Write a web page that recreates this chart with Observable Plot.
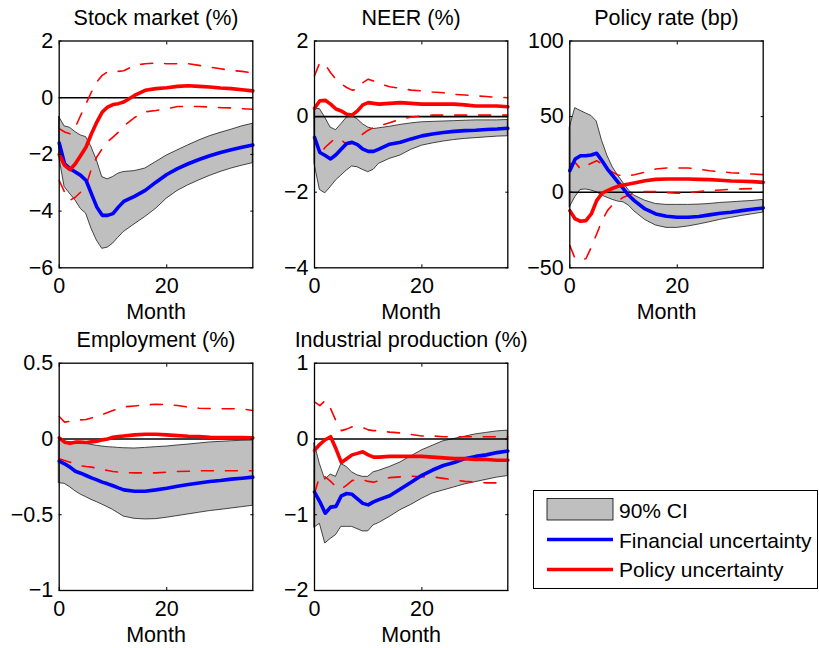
<!DOCTYPE html>
<html><head><meta charset="utf-8">
<script src="https://cdn.jsdelivr.net/npm/d3@7"></script>
<script src="https://cdn.jsdelivr.net/npm/@observablehq/plot@0.6"></script>
<style>
body{margin:0;background:#fff;}
#chart{position:relative;width:819px;height:648px;font-family:"Liberation Sans",Arial,sans-serif;overflow:hidden;}
#chart svg{position:absolute;left:0;top:0;}
</style></head><body><div id="chart"></div>
<script>
// Months (horizon)
const months = [0,1,2,3,4,5,6,7,8,9,10,11,12,14,16,18,20,22,24,26,28,30,32,34,36];
const xTicks = [0, 20];

// Stock market (%)
const stockFin   = [-1.6,-2.33,-2.5,-2.62,-2.74,-2.92,-3.39,-3.86,-4.15,-4.15,-4.09,-3.86,-3.66,-3.48,-3.27,-2.98,-2.71,-2.5,-2.33,-2.18,-2.05,-1.93,-1.84,-1.75,-1.67];
const stockFinHi = [-0.68,-1.01,-1.06,-1.21,-1.33,-1.39,-1.74,-2.21,-2.8,-2.88,-2.8,-2.68,-2.62,-2.59,-2.5,-2.27,-2.04,-1.86,-1.68,-1.51,-1.36,-1.24,-1.13,-1.01,-0.92];
const stockFinLo = [-2.09,-3.15,-3.39,-3.62,-3.92,-4.09,-4.62,-5.04,-5.33,-5.29,-5.15,-4.94,-4.74,-4.47,-4.21,-3.92,-3.56,-3.29,-3.09,-2.92,-2.76,-2.62,-2.5,-2.4,-2.31];
const stockPol   = [-2.0,-2.39,-2.54,-2.33,-2.04,-1.74,-1.27,-0.86,-0.51,-0.33,-0.24,-0.21,-0.15,0.08,0.26,0.32,0.35,0.4,0.42,0.4,0.38,0.34,0.32,0.28,0.24];
const stockPolHi = [-1.09,-1.21,-1.27,-1.04,-0.62,-0.21,0.2,0.55,0.79,0.91,0.93,0.93,0.95,1.14,1.2,1.22,1.2,1.2,1.2,1.14,1.08,1.02,0.96,0.93,0.87];
const stockPolLo = [-2.92,-3.33,-3.62,-3.51,-3.33,-3.09,-2.5,-2.09,-1.8,-1.56,-1.39,-1.22,-1.0,-0.7,-0.5,-0.45,-0.39,-0.31,-0.31,-0.31,-0.33,-0.35,-0.36,-0.39,-0.41];

// NEER (%)
const neerFin   = [-0.55,-0.95,-1.03,-1.12,-1.01,-0.86,-0.71,-0.68,-0.74,-0.86,-0.92,-0.92,-0.86,-0.73,-0.68,-0.59,-0.51,-0.46,-0.42,-0.39,-0.37,-0.36,-0.34,-0.33,-0.31];
const neerFinHi = [0.2,0.2,-0.03,-0.29,-0.36,-0.2,-0.03,0.02,-0.07,-0.2,-0.29,-0.33,-0.31,-0.27,-0.22,-0.18,-0.15,-0.14,-0.13,-0.12,-0.11,-0.1,-0.1,-0.1,-0.09];
const neerFinLo = [-1.25,-1.94,-2.03,-1.87,-1.69,-1.56,-1.43,-1.32,-1.34,-1.41,-1.47,-1.41,-1.25,-1.12,-1.03,-0.88,-0.77,-0.71,-0.66,-0.62,-0.59,-0.57,-0.55,-0.53,-0.52];
const neerPol   = [0.22,0.42,0.43,0.33,0.2,0.15,0.06,0.04,0.15,0.31,0.37,0.35,0.33,0.35,0.37,0.35,0.33,0.33,0.33,0.33,0.31,0.28,0.28,0.28,0.26];
const neerPolHi = [1.08,1.43,1.38,1.16,0.99,0.86,0.77,0.7,0.72,0.9,0.99,0.94,0.87,0.79,0.75,0.7,0.68,0.65,0.63,0.59,0.57,0.55,0.53,0.51,0.5];
const neerPolLo = [-0.55,-0.99,-0.81,-0.68,-0.57,-0.62,-0.74,-0.71,-0.59,-0.46,-0.36,-0.29,-0.25,-0.16,-0.07,-0.01,0.02,0.04,0.04,0.04,0.04,0.04,0.04,0.04,0.04];

// Policy rate (bp)
const rateFin   = [14.2,21.9,24.1,24.1,24.6,25.7,20.8,15.3,10.9,6.5,2.2,-2.2,-5.6,-11.1,-14.4,-15.9,-16.6,-16.6,-16.1,-15,-13.9,-13.3,-12.2,-11.3,-10.4];
const rateFinHi = [42.8,55.6,53.8,52.1,50.5,46.8,34,24.1,16.4,10.9,5.9,1.1,-2.2,-5.6,-7.8,-8.4,-8.4,-8.4,-8.2,-7.8,-7.1,-6.7,-6.2,-5.8,-5.1];
const rateFinLo = [-10,-3.4,1.5,1.8,1.1,0,-2.2,-3.7,-5.1,-6.2,-6.7,-8.9,-12.6,-18.3,-22,-23.6,-23.6,-22.7,-21.4,-19.9,-18.3,-17,-15.7,-14.6,-13.5];
const ratePol   = [-12.2,-17.7,-19.2,-18.8,-14.4,-5.6,-0.7,1.1,2.6,3.9,4.8,5.4,6.1,7.6,8.5,8.7,8.7,8.7,8.5,8.3,7.9,7.4,7.2,7,6.5];
const ratePolHi = [18.6,19.7,15.3,17.5,19.1,20.8,18.6,15.3,13.1,11.4,10.9,10.9,11.6,13.3,15.3,16,16,16,15.3,14.2,13.6,12.9,12.5,12,11.6];
const ratePolLo = [-35.3,-44,-44.7,-44,-36.4,-27.6,-18.8,-12.2,-8.2,-5.6,-3.3,-1.8,-0.7,0.4,0.4,-0.2,-0.7,-0.2,0.4,1.1,1.5,1.9,2.2,2.4,2.4];

// Employment (%)
const empFin   = [-0.147,-0.164,-0.186,-0.213,-0.226,-0.241,-0.257,-0.27,-0.285,-0.296,-0.309,-0.323,-0.336,-0.345,-0.345,-0.336,-0.325,-0.312,-0.3,-0.29,-0.281,-0.274,-0.265,-0.259,-0.252];
const empFinHi = [-0.01,-0.017,-0.021,-0.026,-0.028,-0.032,-0.039,-0.045,-0.05,-0.054,-0.056,-0.059,-0.061,-0.063,-0.059,-0.054,-0.05,-0.043,-0.037,-0.03,-0.023,-0.019,-0.015,-0.012,-0.01];
const empFinLo = [-0.292,-0.296,-0.318,-0.345,-0.367,-0.384,-0.402,-0.417,-0.433,-0.45,-0.468,-0.49,-0.512,-0.527,-0.531,-0.529,-0.52,-0.509,-0.498,-0.487,-0.476,-0.468,-0.459,-0.45,-0.441];
const empPol   = [0.007,-0.021,-0.028,-0.021,-0.021,-0.023,-0.019,-0.015,-0.006,0,0.011,0.016,0.02,0.027,0.031,0.031,0.027,0.022,0.018,0.016,0.011,0.009,0.009,0.009,0.007];
const empPolHi = [0.148,0.111,0.117,0.122,0.126,0.128,0.139,0.148,0.161,0.175,0.188,0.201,0.212,0.218,0.225,0.229,0.227,0.221,0.21,0.203,0.201,0.199,0.199,0.199,0.188];
const empPolLo = [-0.131,-0.142,-0.153,-0.164,-0.177,-0.182,-0.186,-0.193,-0.202,-0.208,-0.215,-0.219,-0.221,-0.224,-0.224,-0.224,-0.219,-0.215,-0.213,-0.21,-0.21,-0.21,-0.21,-0.21,-0.21];

// Industrial production (%)
const ipFin   = [-0.7,-0.83,-0.98,-0.9,-0.89,-0.75,-0.72,-0.73,-0.79,-0.85,-0.87,-0.83,-0.8,-0.75,-0.66,-0.57,-0.48,-0.41,-0.35,-0.31,-0.26,-0.23,-0.21,-0.18,-0.16];
const ipFinHi = [-0.06,-0.33,-0.54,-0.47,-0.5,-0.33,-0.37,-0.44,-0.48,-0.5,-0.5,-0.44,-0.42,-0.37,-0.31,-0.23,-0.15,-0.09,-0.03,0,0.03,0.06,0.08,0.1,0.11];
const ipFinLo = [-1.17,-1.12,-1.38,-1.32,-1.27,-1.16,-1.16,-1.16,-1.19,-1.22,-1.22,-1.14,-1.11,-1.03,-0.94,-0.87,-0.79,-0.72,-0.68,-0.64,-0.6,-0.57,-0.54,-0.51,-0.49];
const ipPol   = [-0.15,-0.07,-0.01,0.03,-0.13,-0.31,-0.26,-0.21,-0.19,-0.17,-0.21,-0.24,-0.24,-0.23,-0.23,-0.23,-0.23,-0.24,-0.25,-0.26,-0.26,-0.27,-0.27,-0.28,-0.28];
const ipPolHi = [0.49,0.44,0.51,0.4,0.24,0.11,0.13,0.16,0.16,0.15,0.12,0.11,0.11,0.09,0.08,0.06,0.04,0.04,0.03,0.03,0.03,0.03,0.03,0.03,0.03];
const ipPolLo = [-0.72,-0.48,-0.5,-0.56,-0.63,-0.66,-0.61,-0.55,-0.53,-0.54,-0.56,-0.57,-0.55,-0.51,-0.5,-0.49,-0.5,-0.5,-0.52,-0.54,-0.56,-0.57,-0.58,-0.58,-0.58];

const titles = ["Stock market (%)", "NEER (%)", "Policy rate (bp)", "Employment (%)", "Industrial production (%)"];
const yDomains = [[-6, 2], [-4, 2], [-50, 100], [-1, 0.5], [-2, 1]];
const yTickSets = [[-6,-4,-2,0,2], [-4,-2,0,2], [-50,0,50,100], [-1,-0.5,0,0.5], [-2,-1,0,1]];
const xLabel = "Month";
const legendLabels = ["90% CI", "Financial uncertainty", "Policy uncertainty"];

const series = [
  [stockFin, stockFinLo, stockFinHi, stockPol, stockPolLo, stockPolHi],
  [neerFin, neerFinLo, neerFinHi, neerPol, neerPolLo, neerPolHi],
  [rateFin, rateFinLo, rateFinHi, ratePol, ratePolLo, ratePolHi],
  [empFin, empFinLo, empFinHi, empPol, empPolLo, empPolHi],
  [ipFin, ipFinLo, ipFinHi, ipPol, ipPolLo, ipPolHi]
];

// layout (frame edges in page pixels)
const W = 819, H = 648;
const frames = [
  {L: 58.7, R: 252.3, T: 40.5, B: 267.3},
  {L: 314, R: 507.3, T: 40.5, B: 267.3},
  {L: 569.3, R: 762.7, T: 40.5, B: 267.3},
  {L: 58.7, R: 252.3, T: 362.7, B: 590},
  {L: 314, R: 507.3, T: 362.7, B: 590}
];
const BLUE = "#0000ff", RED = "#ff0000", GRAY = "#bfbfbf";
const FONT = "'Liberation Sans', Arial, sans-serif";
const FS = 21.5;
const LFS = 21;
const fmt = d3.format("~g");

const chart = document.getElementById("chart");

series.forEach((s, p) => {
  const [fin, finLo, finHi, pol, polLo, polHi] = s;
  const rows = months.map((m, i) => ({m, fin: fin[i], finLo: finLo[i], finHi: finHi[i], pol: pol[i], polLo: polLo[i], polHi: polHi[i]}));
  const f = frames[p];
  const svg = Plot.plot({
    width: W, height: H,
    marginLeft: f.L, marginRight: W - f.R, marginTop: f.T, marginBottom: H - f.B,
    style: {background: "none", fontFamily: FONT, fontSize: FS + "px", overflow: "visible"},
    x: {domain: [0, 36], label: null},
    y: {domain: yDomains[p], label: null},
    marks: [
      Plot.areaY(rows, {x: "m", y1: "finLo", y2: "finHi", fill: GRAY, stroke: "black", strokeWidth: 0.7, curve: "linear"}),
      Plot.ruleY([0], {stroke: "black", strokeWidth: 1.6}),
      Plot.lineY(rows, {x: "m", y: "polLo", stroke: RED, strokeWidth: 1.6, strokeDasharray: "12,12"}),
      Plot.lineY(rows, {x: "m", y: "polHi", stroke: RED, strokeWidth: 1.6, strokeDasharray: "12,12"}),
      Plot.lineY(rows, {x: "m", y: "fin", stroke: BLUE, strokeWidth: 3.6}),
      Plot.lineY(rows, {x: "m", y: "pol", stroke: RED, strokeWidth: 3.6}),
      Plot.frame({stroke: "black", strokeWidth: 1.3}),
      Plot.axisX(xTicks, {anchor: "bottom", tickSize: 0, tickPadding: 10, tickFormat: fmt, label: null}),
      Plot.axisY(yTickSets[p], {anchor: "left", tickSize: 0, tickPadding: 6, tickFormat: fmt, label: null}),
      Plot.axisX(xTicks, {anchor: "bottom", tickSize: -3, fill: "none", label: null}),
      Plot.axisX(xTicks, {anchor: "top", tickSize: -3, fill: "none", label: null}),
      Plot.axisY(yTickSets[p], {anchor: "left", tickSize: -3, fill: "none", label: null}),
      Plot.axisY(yTickSets[p], {anchor: "right", tickSize: -3, fill: "none", label: null}),
      Plot.text([titles[p]], {text: d => d, frameAnchor: "top", lineAnchor: "bottom", dy: -16, fill: "black"}),
      Plot.text([xLabel], {text: d => d, frameAnchor: "bottom", lineAnchor: "top", dy: 36, fill: "black"})
    ]
  });
  chart.appendChild(svg);
});

// Legend
const lg = d3.select(chart).append("svg")
  .attr("width", W).attr("height", H)
  .style("font-family", FONT).style("font-size", LFS + "px");
lg.append("rect").attr("x", 533.5).attr("y", 490.5).attr("width", 284).attr("height", 98)
  .attr("fill", "white").attr("stroke", "black").attr("stroke-width", 1);
lg.append("rect").attr("x", 547).attr("y", 498.5).attr("width", 66).attr("height", 21.5)
  .attr("fill", GRAY).attr("stroke", "black").attr("stroke-width", 0.8);
lg.append("line").attr("x1", 547).attr("x2", 613).attr("y1", 539.5).attr("y2", 539.5)
  .attr("stroke", BLUE).attr("stroke-width", 3.6);
lg.append("line").attr("x1", 547).attr("x2", 613).attr("y1", 569.5).attr("y2", 569.5)
  .attr("stroke", RED).attr("stroke-width", 3.6);
[510, 540, 569.5].forEach((y, i) => {
  lg.append("text").attr("x", 619).attr("y", y).attr("dy", "0.36em").text(legendLabels[i]);
});
</script></body></html>
